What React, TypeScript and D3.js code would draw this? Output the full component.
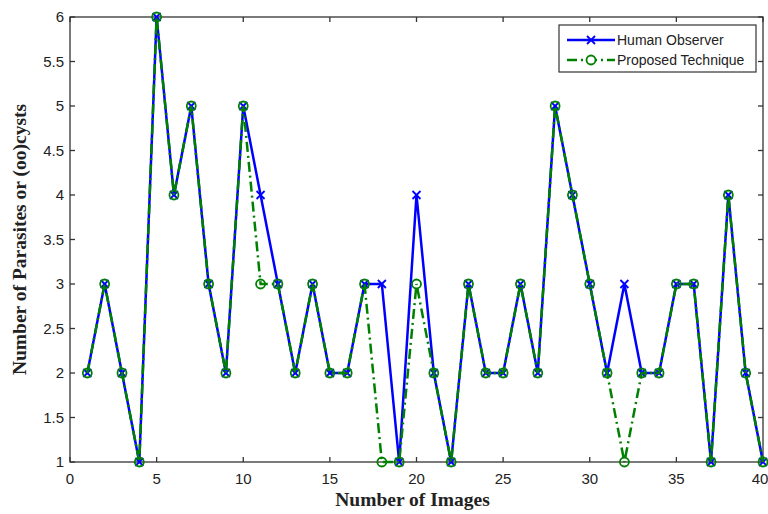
import React from "react";
import * as d3 from "d3";

const images = d3.range(1, 41);
const humanObserver = [2, 3, 2, 1, 6, 4, 5, 3, 2, 5, 4, 3, 2, 3, 2, 2, 3, 3, 1, 4, 2, 1, 3, 2, 2, 3, 2, 5, 4, 3, 2, 3, 2, 2, 3, 3, 1, 4, 2, 1];
const proposedTechnique = [2, 3, 2, 1, 6, 4, 5, 3, 2, 5, 3, 3, 2, 3, 2, 2, 3, 1, 1, 3, 2, 1, 3, 2, 2, 3, 2, 5, 4, 3, 2, 1, 2, 2, 3, 3, 1, 4, 2, 1];
const xTicks = [0, 5, 10, 15, 20, 25, 30, 35, 40];
const yTicks = [1, 1.5, 2, 2.5, 3, 3.5, 4, 4.5, 5, 5.5, 6];
const seriesNames = ["Human Observer", "Proposed Technique"];

const W = 768, H = 514;
const L = 70, R = 763, T = 17, B = 462;

export default function App() {
  const x = d3.scaleLinear().domain([0, 40]).range([L, R]);
  const y = d3.scaleLinear().domain([1, 6]).range([B, T]);
  const line = d3.line<number>().x((_, i) => x(images[i])).y((d) => y(d));
  const blue = "#0000ff";
  const green = "#008000";
  const tick = 5;
  const sans = "Arial, 'Liberation Sans', sans-serif";
  const serif = "'Times New Roman', 'Liberation Serif', serif";
  const lx = 559, ly = 25, lw = 197, lh = 47;
  return (
    <svg width={W} height={H} style={{ position: "absolute", left: 0, top: 0, background: "#fff" }}>
      <rect x={0} y={0} width={W} height={H} fill="#fff" />
      <g stroke="#333" strokeWidth={1.3} fill="none">
        <rect x={L} y={T} width={R - L} height={B - T} />
        {xTicks.map((t) => (
          <g key={"xt" + t}>
            <line x1={x(t)} x2={x(t)} y1={B} y2={B - tick} />
            <line x1={x(t)} x2={x(t)} y1={T} y2={T + tick} />
          </g>
        ))}
        {yTicks.map((t) => (
          <g key={"yt" + t}>
            <line x1={L} x2={L + tick} y1={y(t)} y2={y(t)} />
            <line x1={R} x2={R - tick} y1={y(t)} y2={y(t)} />
          </g>
        ))}
      </g>
      <g fontFamily={sans} fontSize={15} fill="#222">
        {xTicks.map((t) => (
          <text key={"xl" + t} x={t === 40 ? x(t) - 3 : x(t)} y={B + 22} textAnchor="middle">{t}</text>
        ))}
        {yTicks.map((t) => (
          <text key={"yl" + t} x={L - 6} y={y(t) + 5} textAnchor="end">{t}</text>
        ))}
      </g>
      <text x={(L + R) / 2 - 4} y={506} textAnchor="middle" fontFamily={serif} fontWeight="bold" fontSize={19.5} fill="#222">Number of Images</text>
      <text transform={`translate(26, ${(T + B) / 2}) rotate(-90)`} textAnchor="middle" fontFamily={serif} fontWeight="bold" fontSize={19.5} fill="#222">Number of Parasites or (oo)cysts</text>

      <path d={line(humanObserver) || ""} fill="none" stroke={blue} strokeWidth={2.5} />
      {humanObserver.map((v, i) => (
        <g key={"hm" + i} stroke={blue} strokeWidth={1.8}>
          <line x1={x(images[i]) - 4} x2={x(images[i]) + 4} y1={y(v) - 4} y2={y(v) + 4} />
          <line x1={x(images[i]) - 4} x2={x(images[i]) + 4} y1={y(v) + 4} y2={y(v) - 4} />
        </g>
      ))}
      <path d={line(proposedTechnique) || ""} fill="none" stroke={green} strokeWidth={2.5} strokeDasharray="10,4,2,4" />
      {proposedTechnique.map((v, i) => (
        <circle key={"pm" + i} cx={x(images[i])} cy={y(v)} r={4.5} fill="none" stroke={green} strokeWidth={1.8} />
      ))}

      <g>
        <rect x={lx} y={ly} width={lw} height={lh} fill="#fff" stroke="#333" strokeWidth={1.2} />
        <line x1={lx + 8} x2={lx + 56} y1={ly + 15} y2={ly + 15} stroke={blue} strokeWidth={2.5} />
        <line x1={lx + 28} x2={lx + 36} y1={ly + 11} y2={ly + 19} stroke={blue} strokeWidth={1.8} />
        <line x1={lx + 28} x2={lx + 36} y1={ly + 19} y2={ly + 11} stroke={blue} strokeWidth={1.8} />
        <line x1={lx + 8} x2={lx + 56} y1={ly + 35} y2={ly + 35} stroke={green} strokeWidth={2.5} strokeDasharray="10,4,2,4" />
        <circle cx={lx + 32} cy={ly + 35} r={4.5} fill="#fff" stroke={green} strokeWidth={1.8} />
        <text x={lx + 58} y={ly + 20} fontFamily={sans} fontSize={14} fill="#222">{seriesNames[0]}</text>
        <text x={lx + 58} y={ly + 40} fontFamily={sans} fontSize={14} fill="#222">{seriesNames[1]}</text>
      </g>
    </svg>
  );
}
